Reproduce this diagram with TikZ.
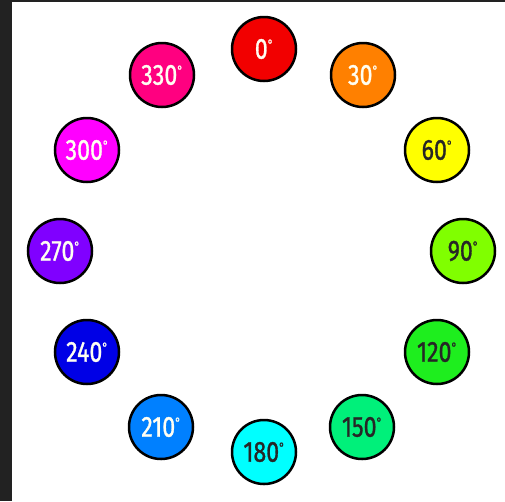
\documentclass[tikz,border=0pt]{standalone}
\usepackage{fontspec}
\setmainfont{Fira Sans}
\newfontfamily\medfont[FakeBold=1.2]{Fira Sans}
\tikzset{
  hue/.style={circle, draw=black, line width=2.5pt, minimum size=64pt, inner sep=0pt,
    font=\medfont\fontsize{29}{29}\selectfont},
  lighttext/.style={text=white!95!yellow},
  darktext/.style={text=black!85},
}
\definecolor{frame}{HTML}{222222}
\definecolor{h0}{HTML}{F20000}
\definecolor{h30}{HTML}{FF8000}
\definecolor{h60}{HTML}{FFFF00}
\definecolor{h90}{HTML}{80FF00}
\definecolor{h120}{HTML}{1EEE1E}
\definecolor{h150}{HTML}{00F07A}
\definecolor{h180}{HTML}{00FFFF}
\definecolor{h210}{HTML}{0080FF}
\definecolor{h240}{HTML}{0000E6}
\definecolor{h270}{HTML}{8000FF}
\definecolor{h300}{HTML}{FF00FF}
\definecolor{h330}{HTML}{FF0080}
\newcommand{\deglabel}[1]{\scalebox{0.8}[1]{#1\raisebox{10pt}{\fontsize{13}{13}\selectfont°}}}
\begin{document}
\begin{tikzpicture}[x=1pt,y=1pt]
\useasboundingbox (0,0) rectangle (505,-501);
\fill[white] (0,0) rectangle (505,-501);
\fill[frame] (0,0) rectangle (12,-501);
\fill[frame] (0,0) rectangle (505,-2);
\node[hue, fill=h0, lighttext] (n0) at (264,-49) {\deglabel{0}};
\node[hue, fill=h30, lighttext] (n30) at (363,-75) {\deglabel{30}};
\node[hue, fill=h60, darktext] (n60) at (437,-150) {\deglabel{60}};
\node[hue, fill=h90, darktext] (n90) at (463,-251) {\deglabel{90}};
\node[hue, fill=h120, darktext] (n120) at (437,-352) {\deglabel{120}};
\node[hue, fill=h150, darktext] (n150) at (362,-427) {\deglabel{150}};
\node[hue, fill=h180, darktext] (n180) at (264,-452) {\deglabel{180}};
\node[hue, fill=h210, lighttext] (n210) at (161,-427) {\deglabel{210}};
\node[hue, fill=h240, lighttext] (n240) at (87,-352) {\deglabel{240}};
\node[hue, fill=h270, lighttext] (n270) at (60,-251) {\deglabel{270}};
\node[hue, fill=h300, lighttext] (n300) at (87,-150) {\deglabel{300}};
\node[hue, fill=h330, lighttext] (n330) at (162,-75) {\deglabel{330}};
\end{tikzpicture}
\end{document}
